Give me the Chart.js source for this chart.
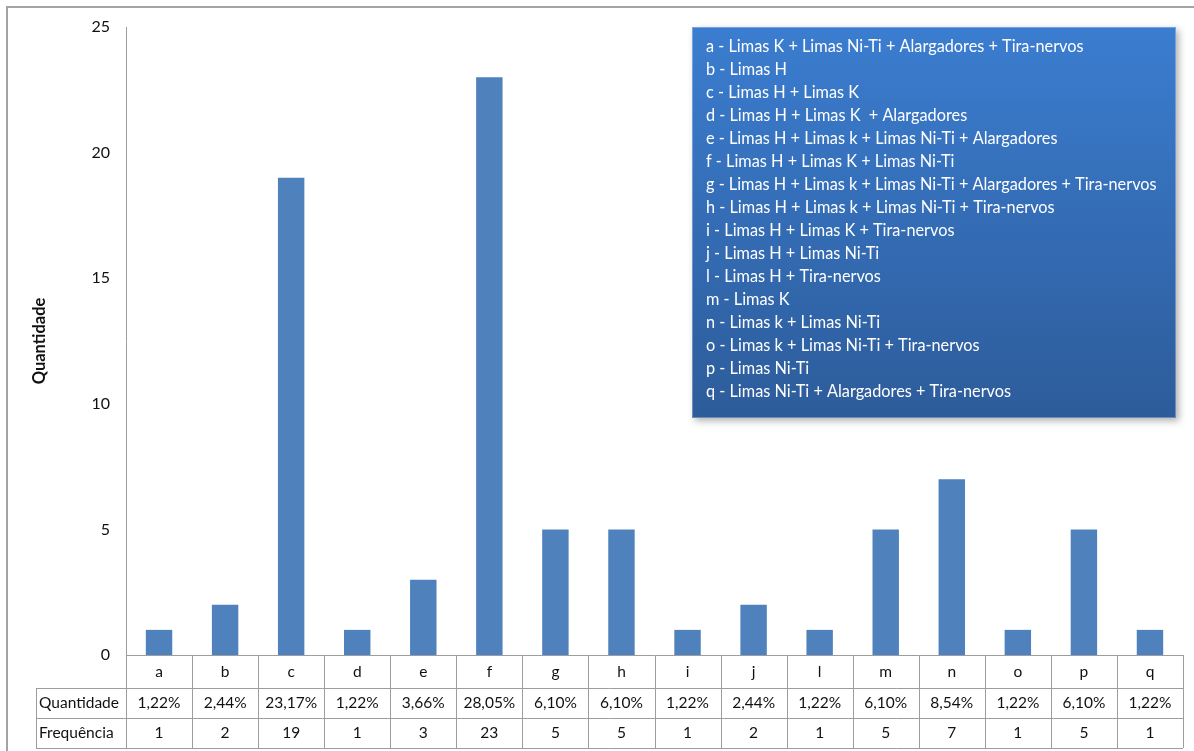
<!DOCTYPE html>
<html lang="pt">
<head>
<meta charset="utf-8">
<title>Quantidade por combinação de limas</title>
<script src="https://cdn.jsdelivr.net/npm/chart.js@4.4.1/dist/chart.umd.min.js"></script>
<style>
  html, body { margin: 0; padding: 0; background: #ffffff; }
  #wrap { position: relative; width: 1194px; height: 751px; }
  canvas { display: block; }
</style>
</head>
<body>
<div id="wrap"><canvas id="grafico" width="1194" height="751"></canvas></div>
<script>
// Categorias (combinações de instrumentos)
const categorias = ['a', 'b', 'c', 'd', 'e', 'f', 'g', 'h', 'i', 'j', 'l', 'm', 'n', 'o', 'p', 'q'];
// Frequência absoluta de cada combinação
const frequencia = [1, 2, 19, 1, 3, 23, 5, 5, 1, 2, 1, 5, 7, 1, 5, 1];
// Percentual de cada combinação
const percentuais = ['1,22%', '2,44%', '23,17%', '1,22%', '3,66%', '28,05%', '6,10%', '6,10%',
                     '1,22%', '2,44%', '1,22%', '6,10%', '8,54%', '1,22%', '6,10%', '1,22%'];
// Rótulos das linhas da tabela de dados
const rotulosLinhas = ['Quantidade', 'Frequência'];
// Eixo Y
const eixoY = { min: 0, max: 25, passo: 5, titulo: 'Quantidade' };
// Legenda das combinações
const legendaItens = [
  'a - Limas K + Limas Ni-Ti + Alargadores + Tira-nervos',
  'b - Limas H',
  'c - Limas H + Limas K',
  'd - Limas H + Limas K  + Alargadores',
  'e - Limas H + Limas k + Limas Ni-Ti + Alargadores',
  'f - Limas H + Limas K + Limas Ni-Ti',
  'g - Limas H + Limas k + Limas Ni-Ti + Alargadores + Tira-nervos',
  'h - Limas H + Limas k + Limas Ni-Ti + Tira-nervos',
  'i - Limas H + Limas K + Tira-nervos',
  'j - Limas H + Limas Ni-Ti',
  'l - Limas H + Tira-nervos',
  'm - Limas K',
  'n - Limas k + Limas Ni-Ti',
  'o - Limas k + Limas Ni-Ti + Tira-nervos',
  'p - Limas Ni-Ti',
  'q - Limas Ni-Ti + Alargadores + Tira-nervos'
];

const FONTE = 'Lato, "Open Sans", sans-serif';
const COR_LINHA = '#9d9d9d';

// Moldura externa, tabela de dados sob o eixo X e caixa da legenda
const tabelaELegenda = {
  id: 'tabelaELegenda',
  afterDraw(chart) {
    const ctx = chart.ctx;
    const x = chart.scales.x;
    const area = chart.chartArea;
    const larg = x.getPixelForValue(1) - x.getPixelForValue(0);
    const esq = x.getPixelForValue(0) - larg / 2;
    const dir = x.getPixelForValue(categorias.length - 1) + larg / 2;
    const y0 = area.bottom;
    const linhas = [y0, y0 + 33, y0 + 63, y0 + 93];
    const cabEsq = 36;

    ctx.save();
    // moldura
    ctx.strokeStyle = '#a3a3a3';
    ctx.lineWidth = 2;
    ctx.beginPath();
    ctx.moveTo(7, 760); ctx.lineTo(7, 7); ctx.lineTo(1200, 7);
    ctx.stroke();

    // grade da tabela
    ctx.strokeStyle = COR_LINHA;
    ctx.lineWidth = 1;
    ctx.beginPath();
    ctx.moveTo(esq, Math.round(linhas[0]) + 0.5); ctx.lineTo(dir, Math.round(linhas[0]) + 0.5);
    for (let r = 1; r < linhas.length; r++) {
      ctx.moveTo(cabEsq, Math.round(linhas[r]) + 0.5); ctx.lineTo(dir, Math.round(linhas[r]) + 0.5);
    }
    ctx.moveTo(cabEsq + 0.5, linhas[1]); ctx.lineTo(cabEsq + 0.5, linhas[3]);
    for (let i = 0; i <= categorias.length; i++) {
      const xx = Math.round(esq + i * larg) + 0.5;
      ctx.moveTo(xx, linhas[0]); ctx.lineTo(xx, linhas[3]);
    }
    ctx.stroke();

    // textos da tabela
    ctx.fillStyle = '#111111';
    ctx.font = '15.5px ' + FONTE;
    ctx.textBaseline = 'middle';
    ctx.textAlign = 'center';
    categorias.forEach((c, i) => {
      const cx = x.getPixelForValue(i);
      ctx.fillText(c, cx, (linhas[0] + linhas[1]) / 2);
      ctx.fillText(percentuais[i], cx, (linhas[1] + linhas[2]) / 2);
      ctx.fillText(String(frequencia[i]), cx, (linhas[2] + linhas[3]) / 2);
    });
    ctx.textAlign = 'left';
    ctx.fillText(rotulosLinhas[0], cabEsq + 3, (linhas[1] + linhas[2]) / 2);
    ctx.fillText(rotulosLinhas[1], cabEsq + 3, (linhas[2] + linhas[3]) / 2);

    // caixa da legenda
    const bx = 692, by = 27, bw = 484, bh = 391;
    ctx.save();
    ctx.shadowColor = 'rgba(0,0,0,0.3)';
    ctx.shadowBlur = 7;
    ctx.shadowOffsetX = 3;
    ctx.shadowOffsetY = 3;
    const grad = ctx.createLinearGradient(0, by, 0, by + bh);
    grad.addColorStop(0, '#3b7dd0');
    grad.addColorStop(1, '#2d5c9a');
    ctx.fillStyle = grad;
    ctx.fillRect(bx, by, bw, bh);
    ctx.restore();
    ctx.strokeStyle = 'rgba(255,255,255,0.3)';
    ctx.strokeRect(bx + 0.5, by + 0.5, bw - 1, bh - 1);

    ctx.fillStyle = '#ffffff';
    ctx.font = '16.3px ' + FONTE;
    ctx.textAlign = 'left';
    ctx.textBaseline = 'middle';
    legendaItens.forEach((t, i) => {
      ctx.fillText(t, bx + 14, by + 20 + i * 23);
    });
    ctx.restore();
  }
};

new Chart(document.getElementById('grafico'), {
  type: 'bar',
  data: {
    labels: categorias,
    datasets: [{
      label: rotulosLinhas[1],
      data: frequencia,
      backgroundColor: '#4f81bd',
      borderWidth: 0,
      categoryPercentage: 1,
      barPercentage: 0.4
    }]
  },
  options: {
    responsive: false,
    animation: false,
    devicePixelRatio: 1,
    layout: { padding: { left: 0, top: 27, right: 11, bottom: 96 } },
    plugins: { legend: { display: false }, tooltip: { enabled: false } },
    scales: {
      x: { display: false },
      y: {
        min: eixoY.min,
        max: eixoY.max,
        ticks: {
          stepSize: eixoY.passo,
          color: '#111111',
          font: { family: FONTE, size: 16 },
          padding: 8
        },
        grid: { display: false },
        border: { display: true, color: COR_LINHA, width: 1 },
        title: {
          display: true,
          text: eixoY.titulo,
          color: '#111111',
          font: { family: FONTE, size: 16.5, weight: 'bold' },
          padding: { top: 30, bottom: 0 }
        },
        afterFit(scale) { scale.width = 126; }
      }
    }
  },
  plugins: [tabelaELegenda]
});
</script>
</body>
</html>
